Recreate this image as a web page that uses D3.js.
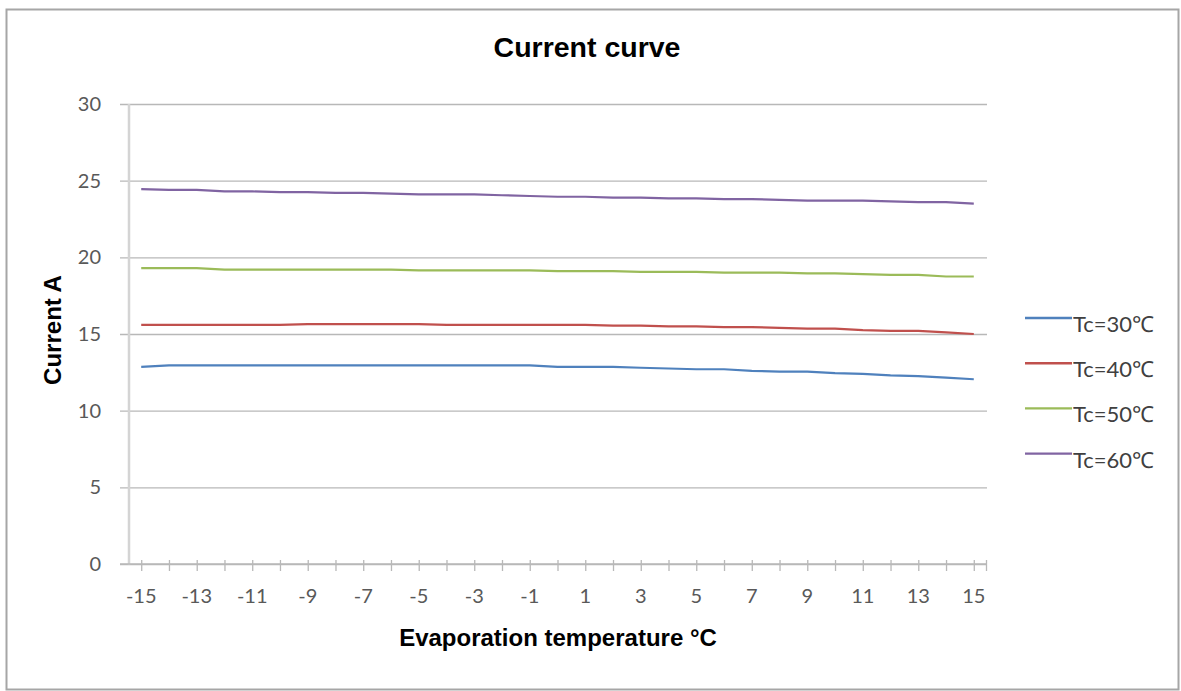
<!DOCTYPE html>
<html>
<head>
<meta charset="utf-8">
<script src="https://cdn.jsdelivr.net/npm/d3@7"></script>
<style>
  html, body { margin: 0; padding: 0; background: #fff; }
  svg { display: block; }
</style>
</head>
<body>
<svg id="chart" width="1181" height="691"></svg>
<script>
// Evaporation temperatures (°C) along the x axis
const evapTemps = d3.range(-15, 16);

// Current (A) for each condensing temperature
const tc30 = [12.85, 12.95, 12.95, 12.95, 12.95, 12.95, 12.95, 12.95, 12.95, 12.95, 12.95, 12.95, 12.95, 12.95, 12.95, 12.85,
              12.85, 12.85, 12.8, 12.75, 12.7, 12.7, 12.6, 12.55, 12.55, 12.45, 12.4, 12.3, 12.25, 12.15, 12.05];
const tc40 = [15.6, 15.6, 15.6, 15.6, 15.6, 15.6, 15.65, 15.65, 15.65, 15.65, 15.65, 15.6, 15.6, 15.6, 15.6, 15.6,
              15.6, 15.55, 15.55, 15.5, 15.5, 15.45, 15.45, 15.4, 15.35, 15.35, 15.25, 15.2, 15.2, 15.1, 15.0];
const tc50 = [19.3, 19.3, 19.3, 19.2, 19.2, 19.2, 19.2, 19.2, 19.2, 19.2, 19.15, 19.15, 19.15, 19.15, 19.15, 19.1,
              19.1, 19.1, 19.05, 19.05, 19.05, 19.0, 19.0, 19.0, 18.95, 18.95, 18.9, 18.85, 18.85, 18.75, 18.75];
const tc60 = [24.45, 24.4, 24.4, 24.3, 24.3, 24.25, 24.25, 24.2, 24.2, 24.15, 24.1, 24.1, 24.1, 24.05, 24.0, 23.95,
              23.95, 23.9, 23.9, 23.85, 23.85, 23.8, 23.8, 23.75, 23.7, 23.7, 23.7, 23.65, 23.6, 23.6, 23.5];

const seriesNames = ["Tc=30℃", "Tc=40℃", "Tc=50℃", "Tc=60℃"];
const seriesValues = [tc30, tc40, tc50, tc60];
const seriesColors = ["#4f81bd", "#c0504d", "#9bbb59", "#8064a2"];

const yTicks = [0, 5, 10, 15, 20, 25, 30];
const xLabelTicks = d3.range(-15, 16, 2);

const svg = d3.select("#chart");

// chart frame
svg.append("rect")
  .attr("x", 6.5).attr("y", 9.5)
  .attr("width", 1172).attr("height", 680)
  .attr("fill", "#fff")
  .attr("stroke", "#a6a6a6")
  .attr("stroke-width", 2);

const plot = { left: 129, right: 986, top: 104, bottom: 564 };

const x = d3.scaleLinear().domain([-15.44, 15.44]).range([plot.left, plot.right]);
const y = d3.scaleLinear().domain([0, 30]).range([plot.bottom, plot.top]);

const tickFont = "Lato, 'Open Sans', 'Liberation Sans', sans-serif";

// horizontal gridlines with y axis labels
const yAxis = d3.axisLeft(y)
  .tickValues(yTicks)
  .tickSize(-(plot.right + 1 - 120))
  .tickFormat(d3.format("d"));

const yg = svg.append("g")
  .attr("transform", `translate(120,0)`)
  .call(yAxis);
yg.select(".domain").remove();
yg.selectAll(".tick line").attr("stroke", "#b8b8b8").attr("stroke-width", 1.3);
yg.selectAll(".tick text")
  .attr("x", -19)
  .attr("fill", "#595959")
  .style("font-family", tickFont)
  .style("font-size", "20px");

// vertical axis line
svg.append("line")
  .attr("x1", plot.left).attr("x2", plot.left)
  .attr("y1", y(30)).attr("y2", y(0) + 1)
  .attr("stroke", "#d4d4d4").attr("stroke-width", 2.5);

// horizontal axis with a tick at each temperature
const xTickVals = evapTemps.concat([15.44]);
const xAxis = d3.axisBottom(x)
  .tickValues(xTickVals)
  .tickSize(7)
  .tickFormat("");
const xg = svg.append("g")
  .attr("transform", `translate(0,${plot.bottom})`)
  .call(xAxis);
xg.select(".domain").remove();
xg.selectAll(".tick line")
  .attr("y1", -4)
  .attr("stroke", "#b8b8b8").attr("stroke-width", 1.3);

svg.append("line")
  .attr("x1", 120).attr("x2", plot.right)
  .attr("y1", plot.bottom).attr("y2", plot.bottom)
  .attr("stroke", "#b8b8b8").attr("stroke-width", 1.3);

svg.append("g").selectAll("text")
  .data(xLabelTicks)
  .join("text")
  .attr("x", d => x(d))
  .attr("y", 603)
  .attr("text-anchor", "middle")
  .attr("fill", "#595959")
  .style("font-family", tickFont)
  .style("font-size", "20px")
  .text(d => d);

// series lines
const line = d3.line()
  .x((d, i) => x(evapTemps[i]))
  .y(d => y(d));

svg.append("g").selectAll("path")
  .data(seriesValues)
  .join("path")
  .attr("d", line)
  .attr("fill", "none")
  .attr("stroke", (d, i) => seriesColors[i])
  .attr("stroke-width", 2.2)
  .attr("stroke-linejoin", "round");

// legend
const legend = svg.append("g");
const legendRows = legend.selectAll("g")
  .data(seriesNames)
  .join("g")
  .attr("transform", (d, i) => `translate(1025,${318 + i * 45.2})`);
legendRows.append("line")
  .attr("x1", 0).attr("x2", 47)
  .attr("stroke", (d, i) => seriesColors[i])
  .attr("stroke-width", 2.4);
legendRows.append("text")
  .attr("x", 48).attr("y", 14)
  .attr("fill", "#404040")
  .style("font-family", tickFont)
  .style("font-size", "22px")
  .text(d => d);

// titles
const titleFont = "'Liberation Sans', Arial, sans-serif";
svg.append("text")
  .attr("x", 587).attr("y", 57)
  .attr("text-anchor", "middle")
  .style("font-family", titleFont)
  .style("font-weight", "bold")
  .style("font-size", "28.5px")
  .text("Current curve");

svg.append("text")
  .attr("x", 558).attr("y", 646)
  .attr("text-anchor", "middle")
  .style("font-family", titleFont)
  .style("font-weight", "bold")
  .style("font-size", "24px")
  .text("Evaporation temperature °C");

svg.append("text")
  .attr("transform", "translate(61,330) rotate(-90)")
  .attr("text-anchor", "middle")
  .style("font-family", titleFont)
  .style("font-weight", "bold")
  .style("font-size", "24px")
  .text("Current A");
</script>
</body>
</html>
